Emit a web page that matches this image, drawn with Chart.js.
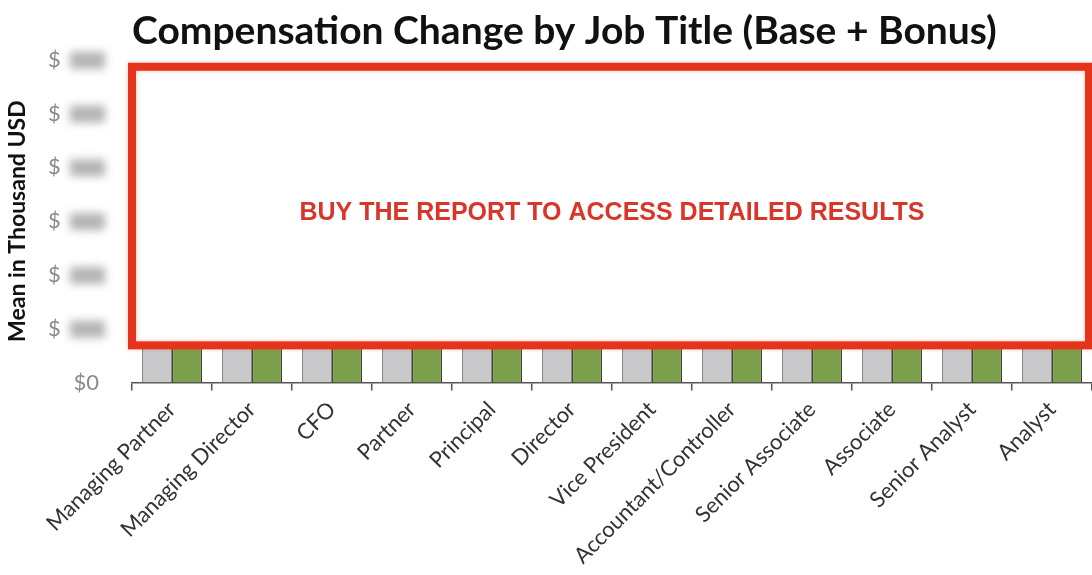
<!DOCTYPE html>
<html>
<head>
<meta charset="utf-8">
<script src="https://cdn.jsdelivr.net/npm/chart.js@4/dist/chart.umd.min.js"></script>
<style>
  html, body { margin: 0; padding: 0; background: #fff; }
  #wrap { width: 1092px; height: 575px; }
</style>
</head>
<body>
<div id="wrap"><canvas id="compChart" width="1092" height="575"></canvas></div>
<script>
"use strict";

// job titles along the x axis
const jobTitles = ["Managing Partner", "Managing Director", "CFO", "Partner", "Principal", "Director",
  "Vice President", "Accountant/Controller", "Senior Associate", "Associate", "Senior Analyst", "Analyst"];

// means in thousand USD (hidden behind the overlay in the source, rough guesses)
const priorYear = [280, 260, 230, 220, 200, 180, 160, 120, 110, 95, 85, 75];
const currentYear = [290, 270, 240, 230, 210, 190, 170, 125, 115, 100, 90, 80];

// y axis ticks (values are blurred out in the source)
const yMax = 300;
const yStep = 50;

const titleText = "Compensation Change by Job Title (Base + Bonus)";
const yTitle = "Mean in Thousand USD";
const overlayText = "BUY THE REPORT TO ACCESS DETAILED RESULTS";

// draws the blurred tick values, the white box with red frame and its text
const overlayPlugin = {
  id: "overlay",
  afterDraw(chart) {
    const ctx = chart.ctx;
    const area = chart.chartArea;
    const y = chart.scales.y;

    // blurred tick values
    ctx.save();
    ctx.filter = "blur(4px)";
    ctx.fillStyle = "#b4b4b4";
    y.ticks.forEach(function (t) {
      if (t.value === 0) return;
      let py = y.getPixelForValue(t.value);
      let right = y.right - 25;
      ctx.fillRect(right - 37, py - 8, 35, 17);
    });
    ctx.restore();

    // report box
    let top = area.top + 7;
    let bottom = y.getPixelForValue(yStep * 0.69);
    let left = area.left;
    let right = area.right - 3;
    ctx.save();
    ctx.shadowColor = "rgba(230, 80, 40, 0.35)";
    ctx.shadowBlur = 4;
    ctx.fillStyle = "#ffffff";
    ctx.fillRect(left, top, right - left, bottom - top);
    ctx.strokeStyle = "#e5341c";
    ctx.lineWidth = 8;
    ctx.strokeRect(left, top, right - left, bottom - top);
    ctx.restore();

    ctx.save();
    ctx.fillStyle = "#d9362a";
    ctx.font = "bold 25px 'Liberation Sans', Arial, sans-serif";
    ctx.textAlign = "center";
    ctx.textBaseline = "middle";
    ctx.fillText(overlayText, (area.left + area.right) / 2, y.getPixelForValue(yStep * 3.15));
    ctx.restore();
  }
};

const ctx = document.getElementById("compChart").getContext("2d");
new Chart(ctx, {
  type: "bar",
  data: {
    labels: jobTitles,
    datasets: [{
      label: "Prior Year",
      data: priorYear,
      backgroundColor: "#c9c9cc",
      borderColor: "#8a8a8a",
      borderWidth: { left: 1.5, right: 1.5, top: 1.5, bottom: 0 },
      borderSkipped: false,
      categoryPercentage: 0.75,
      barPercentage: 1.0
    }, {
      label: "Current Year",
      data: currentYear,
      backgroundColor: "#7c9f4c",
      borderColor: "#3b4a25",
      borderWidth: { left: 1.5, right: 1.5, top: 1.5, bottom: 0 },
      borderSkipped: false,
      categoryPercentage: 0.75,
      barPercentage: 1.0
    }]
  },
  options: {
    responsive: false,
    animation: false,
    layout: { padding: { left: 0, right: 0, top: 0, bottom: 0 } },
    plugins: {
      legend: { display: false },
      tooltip: { enabled: false },
      title: {
        display: true,
        text: titleText,
        align: "start",
        fullSize: false,
        color: "#111",
        font: { family: "Lato", size: 39, weight: "bold" },
        padding: { top: 8, bottom: 5 }
      }
    },
    scales: {
      x: {
        grid: { drawOnChartArea: false, offset: true, tickLength: 8, color: "#555", lineWidth: 1.5 },
        border: { display: true, color: "#555", width: 1.5 },
        ticks: {
          maxRotation: 45,
          minRotation: 45,
          autoSkip: false,
          padding: 6,
          color: "#333",
          font: { family: "Lato", size: 22 }
        }
      },
      y: {
        min: 0,
        max: yMax,
        afterFit: function (scale) { scale.width = 132; },
        grid: { display: false },
        border: { display: false },
        ticks: {
          stepSize: yStep,
          padding: 25,
          color: "#8a8a8a",
          font: { family: "Lato", size: 22 },
          callback: function (v) { return v === 0 ? "$0" : "$\u2007\u2007\u2007"; }
        },
        title: {
          display: true,
          text: yTitle,
          color: "#111",
          font: { family: "Lato", size: 23, weight: "bold" },
          padding: { top: 4, bottom: 4 }
        }
      }
    }
  },
  plugins: [overlayPlugin]
});
</script>
</body>
</html>
